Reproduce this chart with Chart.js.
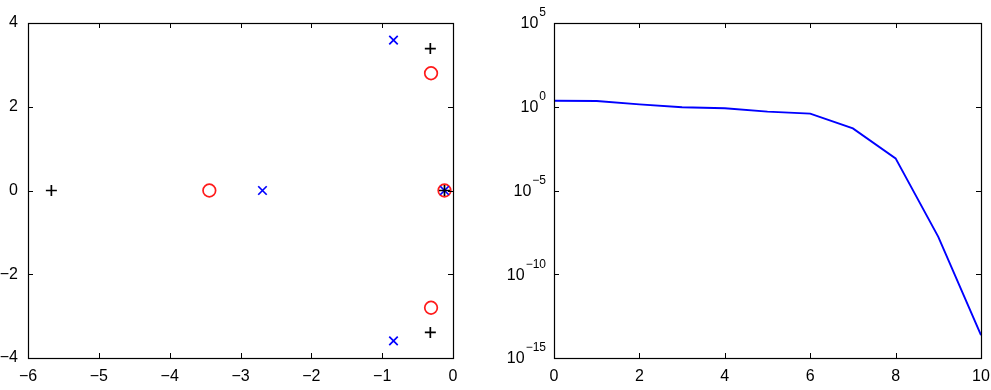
<!DOCTYPE html>
<html>
<head>
<meta charset="utf-8">
<script src="https://cdn.jsdelivr.net/npm/chart.js@4/dist/chart.umd.min.js"></script>
<style>
  html, body { margin: 0; padding: 0; background: #fff; }
  #wrapL { position: absolute; left: 0; top: 0; width: 480px; height: 390px; }
  #wrapR { position: absolute; left: 490px; top: 0; width: 501px; height: 390px; }
</style>
</head>
<body>
<div id="wrapL"><canvas id="left"></canvas></div>
<div id="wrapR"><canvas id="right"></canvas></div>
<script>
// ---- Left panel: pole/zero style scatter ----
const leftXTicks = [-6, -5, -4, -3, -2, -1, 0];
const leftYTicks = [-4, -2, 0, 2, 4];
const plusX   = [-5.67, -0.32, -0.32, -0.12];
const plusY   = [0, 3.39, -3.39, 0];
const circleX = [-3.44, -0.31, -0.31, -0.12];
const circleY = [0, 2.80, -2.80, 0];
const crossX  = [-2.69, -0.84, -0.84, -0.12];
const crossY  = [0, 3.59, -3.59, 0];

// ---- Right panel: log-scale decay ----
const rightX = [0, 1, 2, 3, 4, 5, 6, 7, 8, 9, 10];
const rightY = [2.3, 2.2, 1.38, 0.93, 0.81, 0.51, 0.39, 0.051, 8.3e-4, 1.7e-8, 2.3e-14];
const rightXTicks = [0, 2, 4, 6, 8, 10];
const rightYExponents = [-15, -10, -5, 0, 5];

const FONT = 'Liberation Sans, Arial, Helvetica, sans-serif';
const pts = (xs, ys) => xs.map((x, i) => ({ x: x, y: ys[i] }));
const fmt = v => (v < 0 ? '\u2212' + Math.abs(v) : String(v));
const noPad = s => { s.paddingLeft = 0; s.paddingRight = 0; s.paddingTop = 0; s.paddingBottom = 0; };

// Box + inward ticks on all four sides (MATLAB style)
const framePlugin = {
  id: 'frame',
  afterDraw(chart, args, opts) {
    const { ctx, chartArea: a, scales } = chart;
    const L = 5;
    ctx.save();
    ctx.strokeStyle = '#000';
    ctx.lineWidth = 1;
    ctx.beginPath();
    opts.xTicks.forEach(v => {
      const px = Math.round(scales.x.getPixelForValue(v)) + 0.5;
      ctx.moveTo(px, a.bottom); ctx.lineTo(px, a.bottom - L);
      ctx.moveTo(px, a.top); ctx.lineTo(px, a.top + L);
    });
    opts.yTicks.forEach(v => {
      const py = Math.round(scales.y.getPixelForValue(v)) + 0.5;
      ctx.moveTo(a.left, py); ctx.lineTo(a.left + L, py);
      ctx.moveTo(a.right, py); ctx.lineTo(a.right - L, py);
    });
    ctx.stroke();
    ctx.lineWidth = 1.2;
    ctx.strokeRect(Math.round(a.left) + 0.5, Math.round(a.top) + 0.5,
                   Math.round(a.right - a.left), Math.round(a.bottom - a.top));
    ctx.restore();
  }
};

// Power-of-ten labels with superscript exponents
const expLabelPlugin = {
  id: 'expLabels',
  afterDraw(chart) {
    const { ctx, chartArea: a, scales } = chart;
    ctx.save();
    ctx.fillStyle = '#000';
    ctx.textBaseline = 'middle';
    ctx.textAlign = 'right';
    rightYExponents.forEach(e => {
      const py = scales.y.getPixelForValue(Math.pow(10, e));
      const expText = e < 0 ? '\u2212' + Math.abs(e) : String(e);
      const right = a.left - 8;
      ctx.font = '12px ' + FONT;
      const ew = ctx.measureText(expText).width;
      ctx.fillText(expText, right, py - 10);
      ctx.font = '16px ' + FONT;
      ctx.fillText('10', right - ew - 1, py + 1);
    });
    ctx.restore();
  }
};

Chart.defaults.font.family = FONT;
Chart.defaults.font.size = 16;
Chart.defaults.color = '#000';
Chart.defaults.animation = false;

new Chart(document.getElementById('left'), {
  type: 'scatter',
  data: {
    datasets: [
      { label: '+', data: pts(plusX, plusY), pointStyle: 'cross', pointRadius: 5.5,
        borderColor: '#000', backgroundColor: '#000', pointBorderWidth: 1.7, showLine: false, clip: false },
      { label: 'x', data: pts(crossX, crossY), pointStyle: 'crossRot', pointRadius: 6,
        borderColor: '#0000ff', backgroundColor: '#0000ff', pointBorderWidth: 1.7, showLine: false, clip: false },
      { label: 'o', data: pts(circleX, circleY), pointStyle: 'circle', pointRadius: 6.3,
        borderColor: '#ff1a1a', backgroundColor: 'rgba(0,0,0,0)', pointBorderWidth: 1.7, showLine: false, clip: false }
    ]
  },
  options: {
    responsive: true, maintainAspectRatio: false,
    layout: { padding: { left: 0, top: 23, right: 27, bottom: 0 } },
    plugins: { legend: { display: false }, tooltip: { enabled: false },
               frame: { xTicks: leftXTicks, yTicks: leftYTicks } },
    events: [],
    scales: {
      x: {
        type: 'linear', min: -6, max: 0,
        grid: { display: false, drawTicks: false }, border: { display: false },
        afterBuildTicks: s => { s.ticks = leftXTicks.map(v => ({ value: v })); },
        afterFit: s => { s.height = 32; noPad(s); },
        ticks: { padding: 9, maxRotation: 0, autoSkip: false, callback: v => fmt(v) }
      },
      y: {
        type: 'linear', min: -4, max: 4,
        grid: { display: false, drawTicks: false }, border: { display: false },
        afterBuildTicks: s => { s.ticks = leftYTicks.map(v => ({ value: v })); },
        afterFit: s => { s.width = 28; noPad(s); },
        ticks: { padding: 10, autoSkip: false, callback: v => fmt(v) }
      }
    }
  },
  plugins: [framePlugin]
});

new Chart(document.getElementById('right'), {
  type: 'line',
  data: {
    datasets: [
      { data: pts(rightX, rightY), borderColor: '#0000ff', borderWidth: 1.9,
        pointRadius: 0, tension: 0, fill: false }
    ]
  },
  options: {
    responsive: true, maintainAspectRatio: false,
    layout: { padding: { left: 0, top: 23, right: 10, bottom: 0 } },
    plugins: { legend: { display: false }, tooltip: { enabled: false },
               frame: { xTicks: rightXTicks, yTicks: rightYExponents.map(e => Math.pow(10, e)) } },
    events: [],
    scales: {
      x: {
        type: 'linear', min: 0, max: 10,
        grid: { display: false, drawTicks: false }, border: { display: false },
        afterBuildTicks: s => { s.ticks = rightXTicks.map(v => ({ value: v })); },
        afterFit: s => { s.height = 32; noPad(s); },
        ticks: { padding: 9, maxRotation: 0, autoSkip: false, callback: v => fmt(v) }
      },
      y: {
        type: 'logarithmic', min: 1e-15, max: 1e5,
        grid: { display: false, drawTicks: false }, border: { display: false },
        afterBuildTicks: s => { s.ticks = rightYExponents.map(e => ({ value: Math.pow(10, e) })); },
        afterFit: s => { s.width = 64; noPad(s); },
        ticks: { display: false }
      }
    }
  },
  plugins: [framePlugin, expLabelPlugin]
});
</script>
</body>
</html>
